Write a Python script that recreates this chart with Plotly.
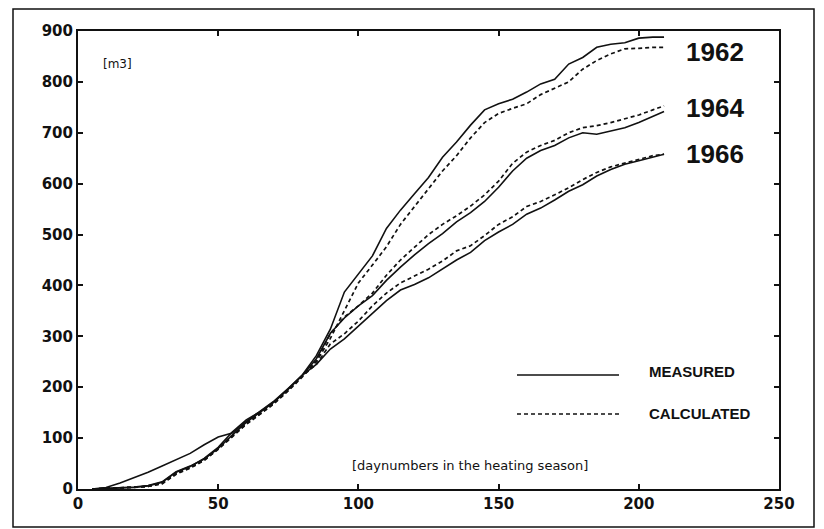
import plotly.graph_objects as go

# ---- data ----
days = [5, 10, 15, 20, 25, 30, 35, 40, 45, 50, 55, 60, 65, 70, 75, 80, 85, 90, 95, 100,
        105, 110, 115, 120, 125, 130, 135, 140, 145, 150, 155, 160, 165, 170, 175, 180,
        185, 190, 195, 200, 205, 209]

meas_1962 = [0, 1, 2, 3, 6, 13, 33, 44, 60, 82, 112, 136, 152, 172, 197, 224, 262, 314, 387, 422,
             458, 512, 548, 580, 612, 652, 682, 715, 745, 757, 766, 780, 796, 805, 835, 848,
             868, 874, 877, 886, 888, 888]
calc_1962 = [0, 1, 2, 3, 5, 11, 30, 42, 57, 79, 104, 128, 148, 169, 194, 221, 250, 296, 352, 405,
             440, 476, 520, 555, 588, 625, 655, 690, 720, 738, 748, 757, 775, 788, 800, 825,
             842, 855, 865, 866, 868, 868]
meas_1964 = [0, 1, 2, 4, 7, 14, 34, 45, 59, 80, 106, 131, 151, 171, 196, 223, 256, 306, 336, 360,
             380, 410, 436, 460, 482, 502, 525, 543, 565, 593, 625, 650, 665, 675, 690, 700,
             697, 703, 710, 720, 732, 742]
calc_1964 = [0, 1, 2, 3, 5, 10, 29, 41, 56, 78, 103, 127, 147, 168, 193, 220, 252, 305, 338, 360,
             385, 420, 450, 475, 500, 520, 537, 556, 578, 605, 640, 662, 675, 685, 700, 710,
             714, 720, 728, 735, 745, 753]
meas_1966 = [0, 3, 12, 22, 33, 45, 57, 70, 87, 102, 110, 133, 153, 173, 198, 224, 245, 275, 295, 320,
             345, 370, 391, 402, 415, 432, 450, 465, 488, 505, 520, 540, 552, 568, 585, 598,
             615, 628, 638, 645, 652, 658]
calc_1966 = [0, 1, 2, 3, 6, 12, 31, 43, 58, 80, 105, 130, 149, 170, 195, 222, 245, 285, 305, 330,
             360, 385, 405, 418, 432, 448, 468, 478, 498, 520, 535, 555, 565, 578, 592, 608,
             622, 633, 640, 648, 655, 658]

years = ["1962", "1964", "1966"]
x_ticks = [0, 50, 100, 150, 200, 250]
y_ticks = [0, 100, 200, 300, 400, 500, 600, 700, 800, 900]

INK = "#111111"
fig = go.Figure()
for name, ys in [("1962 measured", meas_1962), ("1964 measured", meas_1964), ("1966 measured", meas_1966)]:
    fig.add_trace(go.Scatter(x=days, y=ys, mode="lines", name=name,
                             line=dict(color=INK, width=1.6), showlegend=False))
for name, ys in [("1962 calculated", calc_1962), ("1964 calculated", calc_1964), ("1966 calculated", calc_1966)]:
    fig.add_trace(go.Scatter(x=days, y=ys, mode="lines", name=name,
                             line=dict(color=INK, width=1.7, dash="4px,3px"), showlegend=False))

tickfont = dict(family="DejaVu Sans", size=15, color=INK, weight="bold")
fig.update_xaxes(range=[0, 250], tickvals=x_ticks, showgrid=False, zeroline=False,
                 showline=True, linecolor=INK, linewidth=2, mirror="ticks",
                 ticks="inside", ticklen=5, tickwidth=1.5, tickcolor=INK,
                 tickfont=tickfont)
fig.update_yaxes(range=[0, 900], tickvals=y_ticks, showgrid=False, zeroline=False,
                 showline=True, linecolor=INK, linewidth=2, mirror="ticks",
                 ticks="inside", ticklen=5, tickwidth=1.5, tickcolor=INK,
                 tickfont=tickfont)

# page body adds an 8px offset; work in screen pixels and subtract it
OFF = 8
W, H = 816, 521
L, T = 78 - OFF, 31 - OFF
R = W - (779 - OFF)
B = H - (489 - OFF)
pw, ph = W - L - R, H - T - B

def px(x):
    return (x - OFF - L) / pw

def py(y):
    return (H - B - (y - OFF)) / ph

shapes = [
    # outer frame of the page
    dict(type="rect", xref="paper", yref="paper", x0=px(13), x1=px(814), y0=py(527), y1=py(9),
         line=dict(color=INK, width=1.5)),
    # legend samples
    dict(type="line", xref="paper", yref="paper", x0=px(517), x1=px(619), y0=py(375), y1=py(375),
         line=dict(color=INK, width=1.5)),
    dict(type="line", xref="paper", yref="paper", x0=px(517), x1=px(619), y0=py(414), y1=py(414),
         line=dict(color=INK, width=1.5, dash="4px,3px")),
]

ann = [
    dict(text="[m3]", x=px(101), y=py(64), xanchor="left", yanchor="middle",
         font=dict(family="DejaVu Sans", size=12, color=INK)),
    dict(text="[daynumbers in the heating season]", x=px(350), y=py(465), xanchor="left",
         yanchor="middle", font=dict(family="DejaVu Sans", size=13, color=INK)),
    dict(text="MEASURED", x=px(647), y=py(371), xanchor="left", yanchor="middle",
         font=dict(family="Liberation Sans", size=15, color=INK, weight="bold")),
    dict(text="CALCULATED", x=px(647), y=py(413), xanchor="left", yanchor="middle",
         font=dict(family="Liberation Sans", size=15, color=INK, weight="bold")),
]
for yr, yc in zip(years, [52, 108, 154]):
    ann.append(dict(text=yr, x=px(684), y=py(yc), xanchor="left", yanchor="middle",
                    font=dict(family="Liberation Sans", size=26, color=INK, weight="bold")))
for a in ann:
    a.update(xref="paper", yref="paper", showarrow=False)

fig.update_layout(width=W, height=H, margin=dict(l=L, r=R, t=T, b=B),
                  paper_bgcolor="white", plot_bgcolor="white",
                  shapes=shapes, annotations=ann, showlegend=False)

fig.write_html("out.html")
